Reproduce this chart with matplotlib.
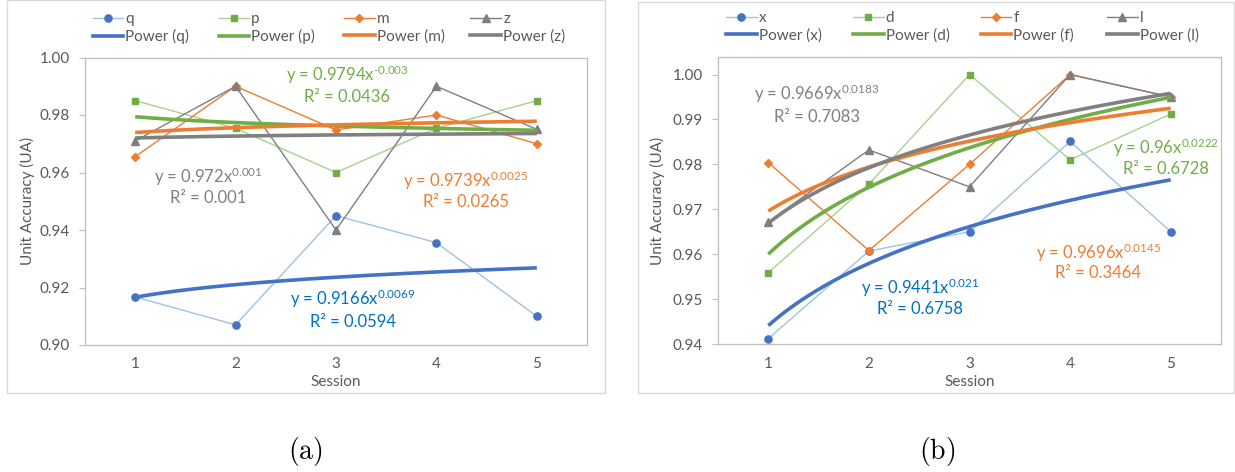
import numpy as np
import matplotlib
matplotlib.use("Agg")
import matplotlib.pyplot as plt
from matplotlib.lines import Line2D
from matplotlib.patches import Rectangle

plt.rcParams['font.family'] = ['Lato', 'DejaVu Sans']
plt.rcParams['mathtext.fontset'] = 'custom'
plt.rcParams['mathtext.rm'] = 'Lato'
plt.rcParams['mathtext.it'] = 'Lato:italic'
plt.rcParams['mathtext.bf'] = 'Lato:bold'

# ---------------- data ----------------
sessions = [1, 2, 3, 4, 5]

# panel (a)
names_a = ["q", "p", "m", "z"]
q_vals = [0.9167, 0.907, 0.945, 0.9356, 0.910]
p_vals = [0.985, 0.9754, 0.960, 0.9754, 0.985]
m_vals = [0.9655, 0.990, 0.9748, 0.980, 0.970]
z_vals = [0.971, 0.990, 0.940, 0.990, 0.975]
coef_a = [0.9166, 0.9794, 0.9739, 0.972]
expo_a = [0.0069, -0.003, 0.0025, 0.001]
expo_a_txt = ["0.0069", "-0.003", "0.0025", "0.001"]
r2_a = ["0.0594", "0.0436", "0.0265", "0.001"]

# panel (b)
names_b = ["x", "d", "f", "l"]
x_vals = [0.9412, 0.9607, 0.965, 0.9851, 0.965]
d_vals = [0.9559, 0.9756, 1.000, 0.981, 0.9912]
f_vals = [0.9804, 0.9608, 0.980, 1.000, 0.995]
l_vals = [0.9672, 0.9832, 0.975, 1.000, 0.995]
coef_b = [0.9441, 0.96, 0.9696, 0.9669]
expo_b = [0.021, 0.0222, 0.0145, 0.0183]
expo_b_txt = ["0.021", "0.0222", "0.0145", "0.0183"]
r2_b = ["0.6758", "0.6728", "0.3464", "0.7083"]

yticks_a = [0.90, 0.92, 0.94, 0.96, 0.98, 1.00]
yticks_b = [0.94, 0.95, 0.96, 0.97, 0.98, 0.99, 1.00]

# ---------------- styles ----------------
light = ['#9DC3E6', '#A9D18E', '#ED7D31', '#7F7F7F']
dark = ['#4472C4', '#70AD47', '#ED7D31', '#7F7F7F']
trend_col = ['#4472C4', '#70AD47', '#ED7D31', '#808080']
txt_col = ['#0070C0', '#70AD47', '#ED7D31', '#808080']
markers = ['o', 's', 'D', '^']
msizes = [5.2, 4.8, 3.6, 5.4]
axis_gray = '#595959'
border_gray = '#BFBFBF'

W, H = 1235, 472
fig = plt.figure(figsize=(W / 100, H / 100), dpi=100)


def fx(px):
    return px / W


def fy(py):
    return 1 - py / H


# outer chart frames
fig.patches.append(Rectangle((fx(7), fy(393)), fx(605) - fx(7), fy(0) - fy(393),
                             transform=fig.transFigure, fill=False,
                             edgecolor='#D9D9D9', lw=1.0))
fig.patches.append(Rectangle((fx(638), fy(393)), fx(1234) - fx(638), fy(2) - fy(393),
                             transform=fig.transFigure, fill=False,
                             edgecolor='#D9D9D9', lw=1.0))


def make_panel(rect, series, names, coefs, expos, expo_txt, r2s, ylim, yticks,
               legend_x, legend_y, ann_pos, ylab_x, xlab_y):
    ax = fig.add_axes(rect)
    xs = np.array(sessions, dtype=float)
    # data series
    for i, vals in enumerate(series):
        ax.plot(xs, vals, color=light[i], lw=1.0, marker=markers[i],
                ms=msizes[i], mfc=dark[i], mec=dark[i], zorder=2)
    # power trendlines
    xx = np.linspace(1, 5, 200)
    for i in range(4):
        ax.plot(xx, coefs[i] * xx ** expos[i], color=trend_col[i], lw=2.6,
                solid_capstyle='butt', zorder=3)
    ax.set_xlim(0.5, 5.5)
    ax.set_ylim(*ylim)
    ax.set_xticks(sessions)
    ax.set_yticks(yticks)
    ax.set_yticklabels([f"{v:.2f}" for v in yticks])
    ax.tick_params(axis='x', length=0, pad=9, labelsize=11, labelcolor=axis_gray)
    ax.tick_params(axis='y', length=4, width=0.8, color=border_gray, pad=7,
                   labelsize=11, labelcolor=axis_gray)
    for s in ax.spines.values():
        s.set_color(border_gray)
        s.set_linewidth(0.9)
    ax.set_ylabel("Unit Accuracy (UA)", fontsize=11, color=axis_gray)
    ax.yaxis.set_label_coords(ylab_x, 0.5)
    ax.yaxis.label.set_va('center')
    ax.set_xlabel("Session", fontsize=11, color=axis_gray)
    ax.xaxis.set_label_coords(0.5, xlab_y)
    ax.xaxis.label.set_va('center')

    # legends: one per column
    for i in range(4):
        h1 = Line2D([], [], color=light[i], lw=1.0, marker=markers[i], ms=msizes[i],
                    mfc=dark[i], mec=dark[i])
        h2 = Line2D([], [], color=trend_col[i], lw=2.6)
        leg = fig.legend([h1, h2], [names[i], f"Power ({names[i]})"],
                         loc='upper left',
                         bbox_to_anchor=(fx(legend_x[i]), fy(legend_y)),
                         bbox_transform=fig.transFigure, frameon=False,
                         fontsize=11, handlelength=2.0, handletextpad=0.15,
                         borderpad=0, borderaxespad=0, labelspacing=0.2)
        for t in leg.get_texts():
            t.set_color(axis_gray)

    # trendline equations
    for i in range(4):
        cx, cy1, cy2 = ann_pos[i]
        eq = f"y = {coefs[i]}" + r"$\mathregular{x^{\text{" + expo_txt[i] + r"}}}$"
        fig.text(fx(cx), fy(cy1), eq, color=txt_col[i], fontsize=12,
                 ha='center', va='center')
        fig.text(fx(cx), fy(cy2), "R\u00b2 = " + r2s[i], color=txt_col[i],
                 fontsize=12, ha='center', va='center')
    return ax


# panel a
make_panel([fx(85), fy(345), fx(587) - fx(85), fy(57.5) - fy(345)],
           [q_vals, p_vals, m_vals, z_vals], names_a, coef_a, expo_a, expo_a_txt, r2_a,
           (0.90, 1.00), yticks_a,
           [92.5, 218.5, 344, 470.5], 12,
           [(352.8, 299, 322), (347, 75, 97), (465.6, 181, 202), (208.5, 177, 198)],
           (27 - 85) / 502, (345 - 382) / 287.5)

# panel b
make_panel([fx(718), fy(344), fx(1221) - fx(718), fy(57) - fy(344)],
           [x_vals, d_vals, f_vals, l_vals], names_b, coef_b, expo_b, expo_b_txt, r2_b,
           (0.94, 1.0039), yticks_b,
           [726, 853, 980.5, 1107], 11,
           [(920, 288, 309), (1166, 148, 169), (1098, 253, 273), (817, 94, 117)],
           (657.5 - 718) / 503, (344 - 382) / 287)

# captions
fig.text(fx(305), fy(452), r"$\mathrm{(a)}$", math_fontfamily='cm', fontsize=20,
         ha='center', va='center')
fig.text(fx(937), fy(452), r"$\mathrm{(b)}$", math_fontfamily='cm', fontsize=20,
         ha='center', va='center')

fig.savefig("out.png", dpi=100)
